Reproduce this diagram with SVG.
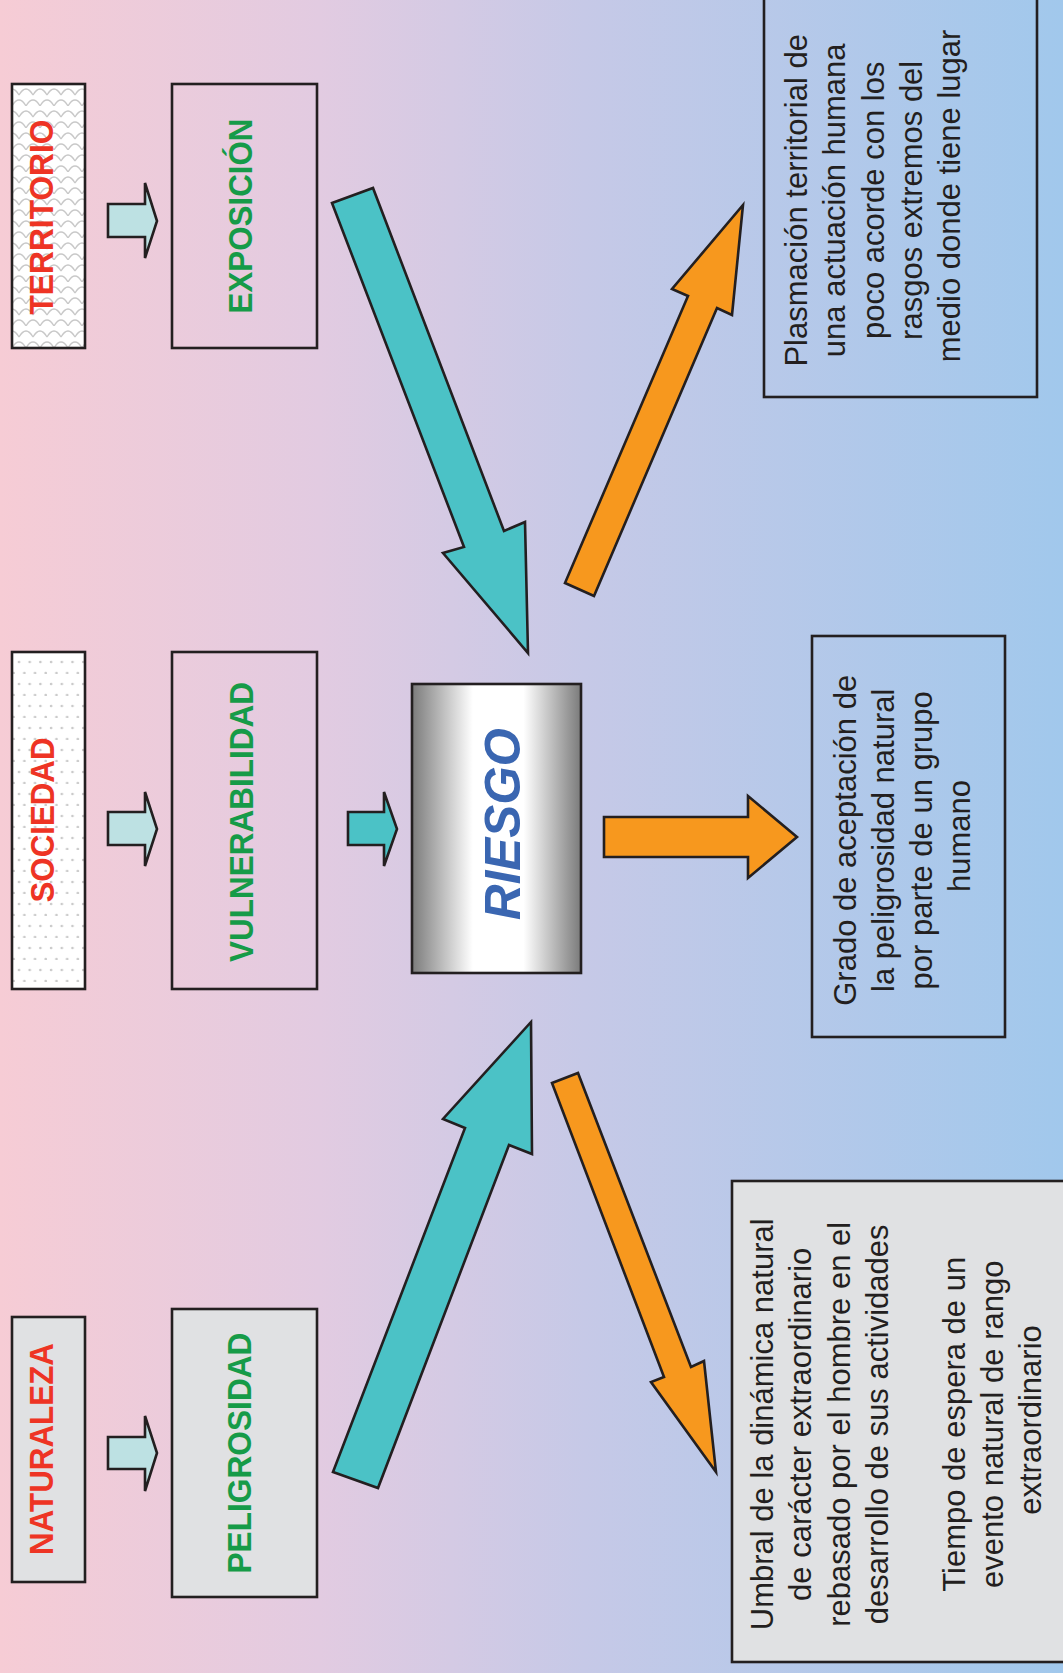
<svg xmlns="http://www.w3.org/2000/svg" width="1063" height="1673" viewBox="0 0 1063 1673">
<defs>
<linearGradient id="bg" x1="0" y1="0" x2="1" y2="0">
<stop offset="0" stop-color="#f6ccd5"/>
<stop offset="0.3" stop-color="#e2cbe1"/>
<stop offset="0.55" stop-color="#c6c9e7"/>
<stop offset="1" stop-color="#a1c8ec"/>
</linearGradient>
<linearGradient id="metal" x1="0" y1="0" x2="1" y2="0">
<stop offset="0" stop-color="#7b7b7b"/>
<stop offset="0.36" stop-color="#ffffff"/>
<stop offset="0.66" stop-color="#ffffff"/>
<stop offset="1" stop-color="#7b7b7b"/>
</linearGradient>
<pattern id="scales" width="14" height="22" patternUnits="userSpaceOnUse" x="12" y="84">
<rect width="14" height="22" fill="#ffffff"/>
<path d="M0,22 Q7,10 14,22 M-7,11 Q0,-1 7,11 M7,11 Q14,-1 21,11" fill="none" stroke="#c8c8c8" stroke-width="1.3"/>
</pattern>
<pattern id="dots" width="10.7" height="22" patternUnits="userSpaceOnUse" x="12" y="652">
<rect width="10.7" height="22" fill="#ffffff"/>
<circle cx="7" cy="10" r="1.3" fill="#c9c9c9"/>
<circle cx="1.65" cy="21" r="1.3" fill="#c9c9c9"/>
</pattern>
<style>
.box{stroke:#231f20;stroke-width:2.6;}
.arr{stroke:#231f20;stroke-width:2.6;stroke-linejoin:miter;}
.red{font-family:"Liberation Sans",Arial,sans-serif;font-weight:bold;font-size:33px;fill:#ee3424;text-anchor:middle;}
.green{font-family:"Liberation Sans",Arial,sans-serif;font-weight:bold;font-size:33px;fill:#169b48;text-anchor:middle;}
.body{font-family:"Liberation Sans",Arial,sans-serif;font-size:31px;fill:#231f20;text-anchor:middle;}
.riesgo{font-family:"Liberation Sans",Arial,sans-serif;font-weight:bold;font-style:italic;font-size:50px;fill:#3a66b1;text-anchor:middle;}
</style>
</defs>
<rect x="0" y="0" width="1063" height="1673" fill="url(#bg)"/>

<g id="territorio">
<rect class="box" x="12" y="84" width="73" height="264" fill="url(#scales)"/>
<text class="red" x="53" y="217" transform="rotate(-90 53 217)" textLength="195" lengthAdjust="spacingAndGlyphs">TERRITORIO</text>
</g>
<g id="exposicion">
<rect class="box" x="172" y="84" width="145" height="264" fill="none"/>
<text class="green" x="252" y="216" transform="rotate(-90 252 216)" textLength="195" lengthAdjust="spacingAndGlyphs">EXPOSICIÓN</text>
</g>
<g id="sociedad">
<rect class="box" x="12" y="652" width="73" height="337" fill="url(#dots)"/>
<text class="red" x="54" y="820" transform="rotate(-90 54 820)" textLength="165" lengthAdjust="spacingAndGlyphs">SOCIEDAD</text>
</g>
<g id="vulnerabilidad">
<rect class="box" x="172" y="652" width="145" height="337" fill="none"/>
<text class="green" x="253" y="822" transform="rotate(-90 253 822)" textLength="280" lengthAdjust="spacingAndGlyphs">VULNERABILIDAD</text>
</g>
<g id="naturaleza">
<rect class="box" x="12" y="1317" width="73" height="265" fill="#e0e1e3"/>
<text class="red" x="53" y="1449" transform="rotate(-90 53 1449)" textLength="212" lengthAdjust="spacingAndGlyphs">NATURALEZA</text>
</g>
<g id="peligrosidad">
<rect class="box" x="172" y="1309" width="145" height="288" fill="#e0e1e3"/>
<text class="green" x="251" y="1453" transform="rotate(-90 251 1453)" textLength="241" lengthAdjust="spacingAndGlyphs">PELIGROSIDAD</text>
</g>
<g id="riesgo">
<rect class="box" x="412" y="684" width="169" height="289" fill="url(#metal)"/>
<text class="riesgo" x="520" y="824" transform="rotate(-90 520 824)" textLength="192" lengthAdjust="spacingAndGlyphs">RIESGO</text>
</g>
<g id="plasmacion">
<rect class="box" x="764" y="-3" width="273" height="400" fill="none"/>
<text class="body" transform="translate(0 196) rotate(-90)">
<tspan x="0" y="807">Plasmación territorial de</tspan>
<tspan x="0" y="845">una actuación humana</tspan>
<tspan x="0" y="884">poco acorde con los</tspan>
<tspan x="0" y="922">rasgos extremos del</tspan>
<tspan x="0" y="960">medio donde tiene lugar</tspan>
</text>
</g>
<g id="grado">
<rect class="box" x="812" y="636" width="193" height="401" fill="none"/>
<text class="body" transform="translate(0 836) rotate(-90)">
<tspan x="0" y="856">Grado de aceptación de</tspan>
<tspan x="0" y="894">la peligrosidad natural</tspan>
<tspan x="0" y="932">por parte de un grupo</tspan>
<tspan x="0" y="970">humano</tspan>
</text>
</g>
<g id="umbral">
<rect class="box" x="732" y="1181" width="340" height="481" fill="#e0e1e3"/>
<text class="body" transform="translate(0 1420) rotate(-90)">
<tspan x="0" y="773">Umbral de la dinámica natural</tspan>
<tspan x="0" y="811">de carácter extraordinario</tspan>
<tspan x="0" y="850">rebasado por el hombre en el</tspan>
<tspan x="0" y="888">desarrollo de sus actividades</tspan>
<tspan x="0" y="965">Tiempo de espera de un</tspan>
<tspan x="0" y="1003">evento natural de rango</tspan>
<tspan x="0" y="1041">extraordinario</tspan>
</text>
</g>

<g id="connectors">
<polygon class="arr" fill="#bde1e3" points="108,204 145,204 145,183 157,221 145,258 145,237 108,237"/>
<polygon class="arr" fill="#bde1e3" points="108,812 145,812 145,792 157,829 145,866 145,845 108,845"/>
<polygon class="arr" fill="#bde1e3" points="108,1437 145,1437 145,1416 157,1453 145,1491 145,1469 108,1469"/>
<polygon class="arr" fill="#4bc2c6" points="348,812 384,812 384,792 397,829 384,866 384,845 348,845"/>
<polygon class="arr" fill="#4bc2c6" points="332,203 373,188 504,531 525,522 528,653 443,553 464,547"/>
<polygon class="arr" fill="#4bc2c6" points="333,1472 378,1488 509,1145 532,1154 531,1022 443,1119 465,1128"/>
<polygon class="arr" fill="#f7981e" points="604,817 748,817 748,796 797,837 748,878 748,857 604,857"/>
<polygon class="arr" fill="#f7981e" points="565,583 594,596 717,308 732,315 743,205 672,289 688,296"/>
<polygon class="arr" fill="#f7981e" points="552,1083 578,1073 691,1367 704,1361 716,1472 651,1382 664,1377"/>
</g>
</svg>
